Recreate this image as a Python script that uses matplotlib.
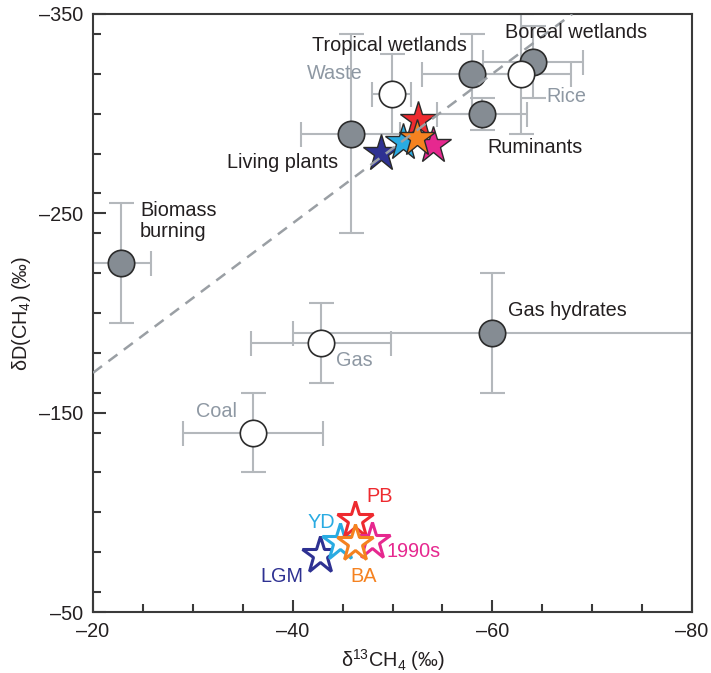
import matplotlib
matplotlib.use("Agg")
import matplotlib.pyplot as plt
from matplotlib.ticker import MultipleLocator, FixedLocator, FixedFormatter

plt.rcParams['font.family'] = ['Liberation Sans', 'DejaVu Sans']
plt.rcParams['mathtext.fontset'] = 'custom'
plt.rcParams['mathtext.rm'] = 'Liberation Sans'
plt.rcParams['mathtext.it'] = 'Liberation Sans:italic'

# ---- data ----
# filled (grey) sources
filled_names = ["Biomass\nburning", "Living plants", "Tropical wetlands",
                "Boreal wetlands", "Ruminants", "Gas hydrates"]
filled_d13c = [-22.8, -45.8, -58.0, -64.1, -59.0, -60.0]
filled_dd = [-225, -290, -320, -326, -300, -190]
filled_d13c_err = [3, 5, 5, 5, 4.5, 20]
filled_dd_err = [30, 50, 20, 18, 8, 30]

# open (white) sources
open_names = ["Waste", "Rice", "Gas", "Coal"]
open_d13c = [-49.9, -62.9, -42.8, -36.0]
open_dd = [-310, -320, -185, -140]
open_d13c_err = [2, 5, 7, 7]
open_dd_err = [20, 30, 20, 20]

# periods (stars)
periods = ["LGM", "YD", "PB", "1990s", "BA"]
period_colors = ["#2e3192", "#29abe2", "#ee2a2f", "#e6288f", "#f58220"]
atm_d13c = [-42.75, -44.75, -46.25, -47.9, -46.25]
atm_dd = [-78.8, -85.3, -96.4, -85.5, -84.8]
src_d13c = [-48.8, -51.1, -52.6, -54.1, -52.5]
src_dd = [-280.3, -285.8, -296.9, -284.3, -287.8]

# dashed line
line_d13c = [-20, -68]
line_dd = [-170, -350]

x_ticks = [-20, -40, -60, -80]
x_ticklabels = ["\u201320", "\u201340", "\u201360", "\u201380"]
y_ticks = [-350, -250, -150, -50]
y_ticklabels = ["\u2013350", "\u2013250", "\u2013150", "\u201350"]

# ---- styles ----
DARK = "#231f20"
LABEL_GREY = "#8e98a3"
ERR = "#b4b8bc"
FILL = "#858c93"
FS = 14.3

fig = plt.figure(figsize=(7.11, 6.73), dpi=100)
ax = fig.add_axes([93 / 711, 61 / 673, 599 / 711, 598 / 673])

ax.set_xlim(-20, -80)
ax.set_ylim(-50, -350)

# error bars
ax.errorbar(filled_d13c, filled_dd, xerr=filled_d13c_err, yerr=filled_dd_err,
            fmt='none', ecolor=ERR, elinewidth=1.5, capsize=9, capthick=1.5, zorder=2)
ax.errorbar(open_d13c, open_dd, xerr=open_d13c_err, yerr=open_dd_err,
            fmt='none', ecolor=ERR, elinewidth=1.5, capsize=9, capthick=1.5, zorder=2)

# markers
ax.plot(filled_d13c, filled_dd, 'o', ms=19, mfc=FILL, mec="#2b2b2b", mew=1.2,
        linestyle='none', zorder=4)
ax.plot(open_d13c, open_dd, 'o', ms=19, mfc="white", mec="#2b2b2b", mew=1.2,
        linestyle='none', zorder=4)

# stars
order = [0, 1, 2, 3, 4]
for i in order:
    ax.plot(src_d13c[i], src_dd[i], '*', ms=28, mfc=period_colors[i],
            mec="#2a2a2a", mew=1.0, zorder=5 + i * 0.1)
for i in order:
    ax.plot(atm_d13c[i], atm_dd[i], '*', ms=28, mfc="white",
            mec=period_colors[i], mew=2.2, zorder=5 + i * 0.1)

# dashed line
ax.plot(line_d13c, line_dd, linestyle=(0, (4.5, 3.2)), color="#9a9fa4",
        lw=1.8, zorder=6)

# labels for sources (offsets in pixels)
filled_offsets = [(19, 42, 'left'), (-68, -29, 'center'), (-83, 28, 'center'),
                  (43, 29, 'center'), (53, -34, 'center'), (75, 22, 'center')]
for name, x, y, (dx, dy, ha) in zip(filled_names, filled_d13c, filled_dd, filled_offsets):
    ax.annotate(name, (x, y), xytext=(dx, dy), textcoords='offset pixels',
                ha=ha, va='center', fontsize=FS, color=DARK, zorder=7,
                linespacing=1.15, multialignment='left')

open_offsets = [(-57, 20), (45, -23), (34, -18), (-36, 21)]
for name, x, y, (dx, dy) in zip(open_names, open_d13c, open_dd, open_offsets):
    ax.annotate(name, (x, y), xytext=(dx, dy), textcoords='offset pixels',
                ha='center', va='center', fontsize=FS, color=LABEL_GREY, zorder=7)

period_offsets = [(-38, -22), (-19, 19), (25, 23), (42, -10), (9, -34)]
for name, c, x, y, (dx, dy) in zip(periods, period_colors, atm_d13c, atm_dd, period_offsets):
    ax.annotate(name, (x, y), xytext=(dx, dy), textcoords='offset pixels',
                ha='center', va='center', fontsize=FS, color=c, zorder=7)

# axes styling
for s in ax.spines.values():
    s.set_color("#3a3a3a")
    s.set_linewidth(1.5)

ax.xaxis.set_major_locator(FixedLocator(x_ticks))
ax.xaxis.set_major_formatter(FixedFormatter(x_ticklabels))
ax.yaxis.set_major_locator(FixedLocator(y_ticks))
ax.yaxis.set_major_formatter(FixedFormatter(y_ticklabels))
ax.xaxis.set_minor_locator(MultipleLocator(5))
ax.yaxis.set_minor_locator(MultipleLocator(20))

ax.tick_params(which='both', direction='in', color="#3a3a3a", width=1.5,
               top=False, right=False, labelsize=FS, labelcolor=DARK)
ax.tick_params(which='major', length=9, pad=7)
ax.tick_params(which='minor', length=5.5)

ax.set_xlabel("\u03b4$^{13}$CH$_4$ (\u2030)", fontsize=FS, color=DARK)
ax.set_ylabel("\u03b4D(CH$_4$) (\u2030)", fontsize=FS, color=DARK)
ax.xaxis.label.set_verticalalignment('center')
ax.xaxis.set_label_coords(0.5, -0.080)
ax.yaxis.set_label_coords(-0.100, 0.5)

fig.savefig("out.png", dpi=100)
